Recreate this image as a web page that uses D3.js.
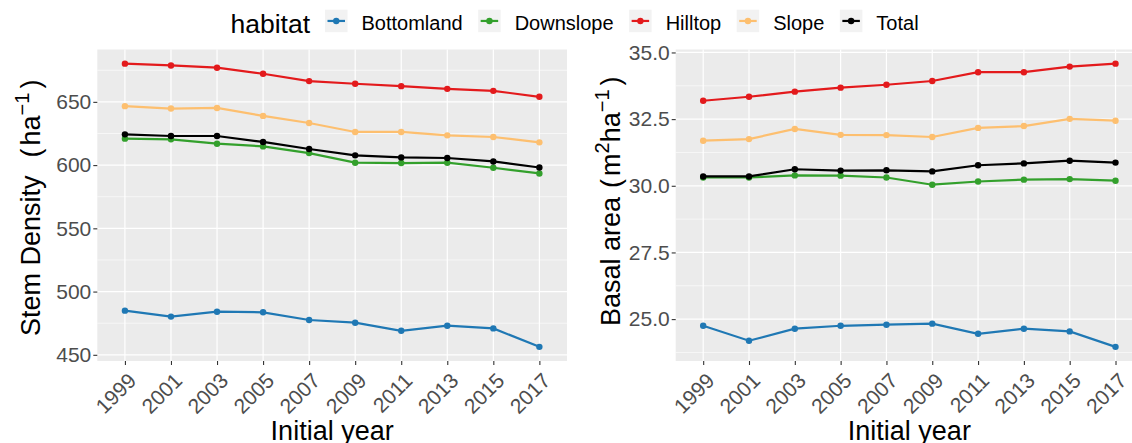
<!DOCTYPE html>
<html>
  <head>
    <meta charset="utf-8">
    <title>Stem density and basal area by habitat</title>
    <script src="https://cdn.jsdelivr.net/npm/d3@7"></script>
    <style>
      html, body { margin: 0; padding: 0; background: #ffffff; }
      svg { display: block; font-family: "Liberation Sans", Arial, sans-serif; }
      .tick-label { fill: #4D4D4D; font-size: 21px; }
      .axis-title { fill: #000000; font-size: 27px; }
      .legend-text { fill: #000000; font-size: 20px; }
    </style>
  </head>
  <body>
    <div id="chart"></div>
    <script>
      // ---- data ----
      var years = ["1999", "2001", "2003", "2005", "2007", "2009", "2011", "2013", "2015", "2017"];
      var habitats = ["Bottomland", "Downslope", "Hilltop", "Slope", "Total"];
      var habitatColors = ["#1F78B4", "#33A02C", "#E31A1C", "#FDBF6F", "#000000"];

      // stem density (ha^-1)
      var densBottomland = [484.9, 480.2, 484.1, 483.6, 477.5, 475.4, 469.0, 473.0, 470.9, 456.3];
      var densDownslope  = [620.9, 620.4, 616.9, 614.8, 609.5, 601.9, 601.6, 601.9, 597.9, 593.4];
      var densHilltop    = [680.2, 678.8, 677.0, 672.2, 666.4, 664.3, 662.4, 660.3, 658.7, 654.0];
      var densSlope      = [646.6, 644.7, 645.2, 638.9, 633.3, 626.2, 626.2, 623.5, 622.2, 618.0];
      var densTotal      = [624.3, 623.0, 623.0, 618.3, 612.7, 607.7, 606.1, 605.6, 602.9, 598.1];

      // basal area (m^2 ha^-1)
      var baBottomland = [24.75, 24.19, 24.64, 24.75, 24.79, 24.83, 24.45, 24.64, 24.54, 23.96];
      var baDownslope  = [30.31, 30.31, 30.39, 30.38, 30.31, 30.04, 30.16, 30.23, 30.25, 30.19];
      var baHilltop    = [33.19, 33.34, 33.53, 33.68, 33.79, 33.93, 34.26, 34.26, 34.47, 34.58];
      var baSlope      = [31.69, 31.75, 32.13, 31.91, 31.90, 31.83, 32.17, 32.24, 32.51, 32.44];
      var baTotal      = [30.35, 30.35, 30.62, 30.57, 30.58, 30.54, 30.77, 30.84, 30.94, 30.87];

      var densTicks = [450, 500, 550, 600, 650];
      var baTicks = [25.0, 27.5, 30.0, 32.5, 35.0];

      var densSeries = [densBottomland, densDownslope, densHilltop, densSlope, densTotal];
      var baSeries = [baBottomland, baDownslope, baHilltop, baSlope, baTotal];

      var W = 1132, H = 443;
      var svg = d3.select("#chart").append("svg")
          .attr("width", W)
          .attr("height", H);

      var color = d3.scaleOrdinal().domain(habitats).range(habitatColors);

      // ggplot-like panel
      function drawPanel(opts) {
        var x = d3.scalePoint().domain(years).range([opts.left, opts.right]).padding(0.6);
        var all = d3.merge(opts.series);
        var ext = d3.extent(all);
        var pad = (ext[1] - ext[0]) * 0.05;
        var y = d3.scaleLinear().domain([ext[0] - pad, ext[1] + pad]).range([opts.bottom, opts.top]);

        var g = svg.append("g");
        g.append("rect")
          .attr("x", opts.left).attr("y", opts.top)
          .attr("width", opts.right - opts.left).attr("height", opts.bottom - opts.top)
          .attr("fill", "#EBEBEB");

        // minor grid (halfway between major ticks)
        var step = opts.ticks[1] - opts.ticks[0];
        var minor = [opts.ticks[0] - step / 2];
        opts.ticks.forEach(function (t) { minor.push(t + step / 2); });
        minor = minor.filter(function (d) { return y(d) >= opts.top && y(d) <= opts.bottom; });

        g.selectAll(".minor").data(minor).enter().append("line")
          .attr("x1", opts.left).attr("x2", opts.right)
          .attr("y1", function (d) { return y(d); }).attr("y2", function (d) { return y(d); })
          .attr("stroke", "#ffffff").attr("stroke-width", 0.6);

        g.selectAll(".majory").data(opts.ticks).enter().append("line")
          .attr("x1", opts.left).attr("x2", opts.right)
          .attr("y1", function (d) { return y(d); }).attr("y2", function (d) { return y(d); })
          .attr("stroke", "#ffffff").attr("stroke-width", 1.2);

        g.selectAll(".majorx").data(years).enter().append("line")
          .attr("x1", function (d) { return x(d); }).attr("x2", function (d) { return x(d); })
          .attr("y1", opts.top).attr("y2", opts.bottom)
          .attr("stroke", "#ffffff").attr("stroke-width", 1.2);

        // y axis
        var yAxis = g.append("g")
          .attr("transform", "translate(" + opts.left + ",0)")
          .call(d3.axisLeft(y).tickValues(opts.ticks).tickSize(4).tickPadding(2).tickFormat(opts.fmt));
        yAxis.select(".domain").remove();
        yAxis.selectAll(".tick line").attr("stroke", "#333333").attr("stroke-width", 1.1);
        yAxis.selectAll(".tick text").attr("class", "tick-label").attr("font-size", null)
          .attr("font-family", null).attr("fill", null);

        // x axis
        var xAxis = g.append("g")
          .attr("transform", "translate(0," + opts.bottom + ")")
          .call(d3.axisBottom(x).tickSize(4).tickFormat(function (d) { return d; }));
        xAxis.select(".domain").remove();
        xAxis.selectAll(".tick line").attr("stroke", "#333333").attr("stroke-width", 1.1);
        xAxis.selectAll(".tick text")
          .attr("class", "tick-label").attr("font-size", null).attr("font-family", null).attr("fill", null)
          .attr("text-anchor", "end")
          .attr("dy", null)
          .attr("y", 0)
          .attr("transform", "translate(12,21) rotate(-45)");

        // lines and points
        opts.series.forEach(function (vals, k) {
          var pts = years.map(function (yr, j) { return [x(yr), y(vals[j])]; });
          g.append("path")
            .attr("d", d3.line()(pts))
            .attr("fill", "none")
            .attr("stroke", color(habitats[k]))
            .attr("stroke-width", 2.2);
          g.selectAll(".pt" + k).data(pts).enter().append("circle")
            .attr("cx", function (d) { return d[0]; })
            .attr("cy", function (d) { return d[1]; })
            .attr("r", 3.2)
            .attr("fill", color(habitats[k]));
        });

        // axis titles
        svg.append("text").attr("class", "axis-title")
          .attr("x", (opts.left + opts.right) / 2).attr("y", 440)
          .attr("text-anchor", "middle")
          .text("Initial year");

        var yt = svg.append("text").attr("class", "axis-title")
          .attr("text-anchor", "start")
          .attr("transform", "translate(" + opts.titleX + "," + opts.titleY + ") rotate(-90)");
        yt.selectAll("tspan").data(opts.title).enter().append("tspan")
          .attr("dx", function (d) { return d.dx || 0; })
          .attr("dy", function (d) { return d.dy || 0; })
          .attr("font-size", function (d) { return d.size ? d.size + "px" : null; })
          .text(function (d) { return d.s; });
      }

      // title pieces; dy on the next piece undoes a superscript shift
      drawPanel({
        left: 97.3, right: 567, top: 49.5, bottom: 361,
        series: densSeries, ticks: densTicks, fmt: d3.format("d"), titleX: 40, titleY: 336,
        title: [
          { s: "Stem Density" },
          { s: "(", dx: 18 },
          { s: "ha", dx: 3 },
          { s: "\u22121", dy: -11, size: 20 },
          { s: ")", dx: 4, dy: 11 }
        ]
      });

      drawPanel({
        left: 675.7, right: 1143, top: 49.5, bottom: 361,
        series: baSeries, ticks: baTicks, fmt: d3.format(".1f"), titleX: 620, titleY: 326,
        title: [
          { s: "Basal area" },
          { s: "(", dx: 9 },
          { s: "m", dx: 3 },
          { s: "2", dy: -11, size: 20 },
          { s: "ha", dy: 11 },
          { s: "\u22121", dy: -11, size: 20 },
          { s: ")", dx: 4, dy: 11 }
        ]
      });

      // legend
      var legend = svg.append("g");
      legend.append("text")
        .attr("x", 230.5).attr("y", 33)
        .style("font-size", "26.5px").attr("fill", "#000")
        .text("habitat");

      var kx = 325, keyW = 22.5, keyTop = 9.7;
      habitats.forEach(function (h) {
        var item = legend.append("g");
        item.append("rect")
          .attr("x", kx).attr("y", keyTop).attr("width", keyW).attr("height", keyW)
          .attr("fill", "#F2F2F2");
        item.append("line")
          .attr("x1", kx + 2.5).attr("x2", kx + keyW - 2.5)
          .attr("y1", keyTop + keyW / 2).attr("y2", keyTop + keyW / 2)
          .attr("stroke", color(h)).attr("stroke-width", 2.2);
        item.append("circle")
          .attr("cx", kx + keyW / 2).attr("cy", keyTop + keyW / 2).attr("r", 3.2)
          .attr("fill", color(h));
        var t = item.append("text").attr("class", "legend-text")
          .attr("x", kx + keyW + 14).attr("y", 30)
          .text(h);
        kx = kx + keyW + 14 + t.node().getComputedTextLength() + 15.5;
      });
    </script>
  </body>
</html>
